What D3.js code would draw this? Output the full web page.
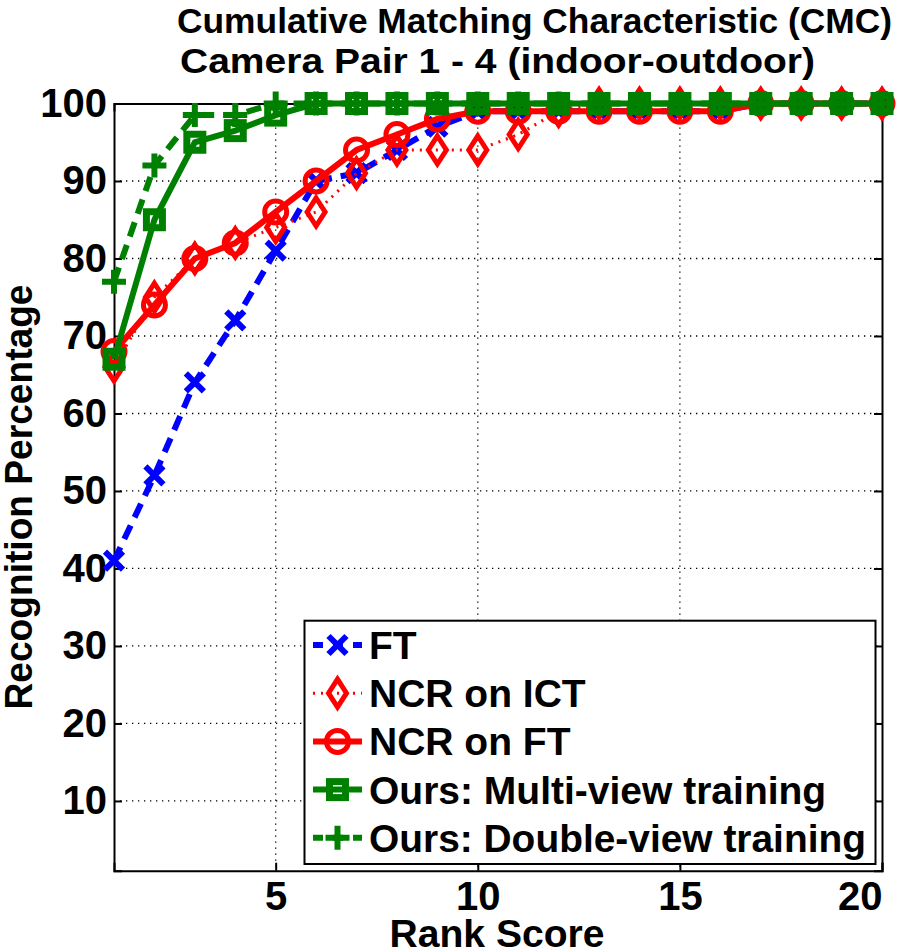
<!DOCTYPE html>
<html>
<head>
<meta charset="utf-8">
<script src="https://cdn.jsdelivr.net/npm/d3@7"></script>
<style>
  body { margin: 0; background: #fff; }
  text { font-family: 'Liberation Sans', Arial, sans-serif; }
</style>
</head>
<body>
<div id="chart"></div>
<script>
// data
const ranks = d3.range(1, 21);
const ft = [41, 52, 64, 72, 81, 90, 91, 94, 97, 99, 99, 99, 99, 99, 99, 99, 100, 100, 100, 100];
const ncrIct = [66, 75, 80, 82, 84, 86, 91, 94, 94, 94, 96, 99, 100, 100, 100, 100, 100, 100, 100, 100];
const ncrFt = [68, 74, 80, 82, 86, 90, 94, 96, 98, 99, 99, 99, 99, 99, 99, 99, 100, 100, 100, 100];
const multiView = [67, 85, 95, 96.5, 98.5, 100, 100, 100, 100, 100, 100, 100, 100, 100, 100, 100, 100, 100, 100, 100];
const doubleView = [77, 92, 98.5, 98.5, 100, 100, 100, 100, 100, 100, 100, 100, 100, 100, 100, 100, 100, 100, 100, 100];
const seriesNames = ['FT', 'NCR on ICT', 'NCR on FT', 'Ours: Multi-view training', 'Ours: Double-view training'];
const xTicks = [5, 10, 15, 20];
const yTicks = [10, 20, 30, 40, 50, 60, 70, 80, 90, 100];

const width = 902, height = 949;
const plotL = 114, plotR = 882, plotT = 103.5, plotB = 870.7;

const svg = d3.select('#chart').append('svg')
  .attr('width', width)
  .attr('height', height);

const x = d3.scaleLinear().domain([1, 20]).range([plotL, plotR]);
const y = d3.scaleLinear().domain([1, 100]).range([plotB, plotT]);

// grid
const grid = svg.append('g').attr('stroke', '#000').attr('stroke-width', 1.3)
  .attr('stroke-dasharray', '1.3,4.7');
grid.selectAll('.gy').data(yTicks.filter(d => d < 100)).join('line')
  .attr('x1', plotL).attr('x2', plotR)
  .attr('y1', d => y(d)).attr('y2', d => y(d));
grid.selectAll('.gx').data(xTicks.filter(d => d < 20)).join('line')
  .attr('y1', plotT).attr('y2', plotB)
  .attr('x1', d => x(d)).attr('x2', d => x(d));

// axes
const yAxis = d3.axisLeft(y).tickValues(yTicks).tickSize(-8).tickPadding(7);
const xAxis = d3.axisBottom(x).tickValues(xTicks).tickSize(-8).tickPadding(11);
const gy = svg.append('g').attr('transform', `translate(${plotL},0)`).call(yAxis);
const gx = svg.append('g').attr('transform', `translate(0,${plotB})`).call(xAxis);
svg.append('g').attr('transform', `translate(${plotR},0)`)
  .call(d3.axisRight(y).tickValues(yTicks).tickSize(-8).tickFormat(''));
svg.append('g').attr('transform', `translate(0,${plotT})`)
  .call(d3.axisTop(x).tickValues(xTicks).tickSize(-8).tickFormat(''));
svg.selectAll('.domain').attr('stroke', '#000').attr('stroke-width', 2);
svg.selectAll('.tick line').attr('stroke', '#000').attr('stroke-width', 2);
[gy, gx].forEach(g => g.selectAll('.tick text')
  .attr('font-size', 40).attr('font-weight', 'bold').attr('fill', '#000')
  .attr('font-family', "'Liberation Sans', Arial, sans-serif"));
gx.selectAll('.tick text').attr('dy', '0.71em');
// last x label is pulled inside the window, as in the reference
gx.selectAll('.tick text').filter(d => d === 20)
  .attr('text-anchor', 'end').attr('x', 0);

// series style
const styles = [
  { data: ft, color: '#0000ff', dash: '15,9', marker: 'x' },
  { data: ncrIct, color: '#ff0000', dash: '2,6', marker: 'diamond' },
  { data: ncrFt, color: '#ff0000', dash: null, marker: 'circle' },
  { data: multiView, color: '#008000', dash: null, marker: 'square' },
  { data: doubleView, color: '#008000', dash: '15,9', marker: 'plus' },
];

function drawMarker(g, type, color) {
  if (type === 'x') {
    g.append('path').attr('d', 'M-9,-9L9,9M-9,9L9,-9')
      .attr('stroke', color).attr('stroke-width', 6).attr('fill', 'none');
  } else if (type === 'plus') {
    g.append('path').attr('d', 'M-12,0L12,0M0,-12L0,12')
      .attr('stroke', color).attr('stroke-width', 6).attr('fill', 'none');
  } else if (type === 'diamond') {
    g.append('path').attr('d', 'M0,-14L9,0L0,14L-9,0Z')
      .attr('stroke', color).attr('stroke-width', 5).attr('fill', 'none');
  } else if (type === 'circle') {
    g.append('circle').attr('r', 11)
      .attr('stroke', color).attr('stroke-width', 5).attr('fill', 'none');
  } else if (type === 'square') {
    g.append('rect').attr('x', -8).attr('y', -8).attr('width', 16).attr('height', 16)
      .attr('stroke', color).attr('stroke-width', 7).attr('fill', 'none');
  }
}

const line = d3.line().x((d, i) => x(ranks[i])).y(d => y(d));

styles.forEach(s => {
  const g = svg.append('g');
  g.append('path').datum(s.data)
    .attr('d', line)
    .attr('fill', 'none')
    .attr('stroke', s.color)
    .attr('stroke-width', s.marker === 'diamond' ? 3 : 6)
    .attr('stroke-dasharray', s.dash);
  g.selectAll('.m').data(s.data).join('g')
    .attr('transform', (d, i) => `translate(${x(ranks[i])},${y(d)})`)
    .each(function () { drawMarker(d3.select(this), s.marker, s.color); });
});

// legend
const lg = svg.append('g');
lg.append('rect').attr('x', 304.5).attr('y', 620.7).attr('width', 571).attr('height', 243.3)
  .attr('fill', '#fff').attr('stroke', '#000').attr('stroke-width', 2);
styles.forEach((s, i) => {
  const cy = 645 + i * 48.2;
  lg.append('line').attr('x1', 313).attr('x2', 362).attr('y1', cy).attr('y2', cy)
    .attr('stroke', s.color).attr('stroke-width', s.marker === 'diamond' ? 3 : 6)
    .attr('stroke-dasharray', s.dash ? (s.marker === 'diamond' ? '2,6' : '10,10') : null);
  drawMarker(lg.append('g').attr('transform', `translate(337.5,${cy})`), s.marker, s.color);
  lg.append('text').attr('x', 369).attr('y', cy + 14)
    .attr('font-size', 39).attr('font-weight', 'bold')
    .attr('textLength', i === 4 ? 497 : null).attr('lengthAdjust', 'spacingAndGlyphs')
    .text(seriesNames[i]);
});

// titles
svg.append('text').attr('x', 177).attr('y', 33).attr('font-size', 35).attr('font-weight', 'bold')
  .attr('textLength', 715).attr('lengthAdjust', 'spacingAndGlyphs')
  .text('Cumulative Matching Characteristic (CMC)');
svg.append('text').attr('x', 180).attr('y', 73).attr('font-size', 35).attr('font-weight', 'bold')
  .attr('textLength', 635).attr('lengthAdjust', 'spacingAndGlyphs')
  .text('Camera Pair 1 - 4 (indoor-outdoor)');
svg.append('text').attr('transform', 'translate(32,497) rotate(-90)')
  .attr('text-anchor', 'middle').attr('font-size', 38).attr('font-weight', 'bold')
  .attr('textLength', 425).attr('lengthAdjust', 'spacingAndGlyphs')
  .text('Recognition Percentage');
svg.append('text').attr('x', 497).attr('y', 947)
  .attr('text-anchor', 'middle').attr('font-size', 38).attr('font-weight', 'bold')
  .attr('textLength', 215).attr('lengthAdjust', 'spacingAndGlyphs')
  .text('Rank Score');
</script>
</body>
</html>
